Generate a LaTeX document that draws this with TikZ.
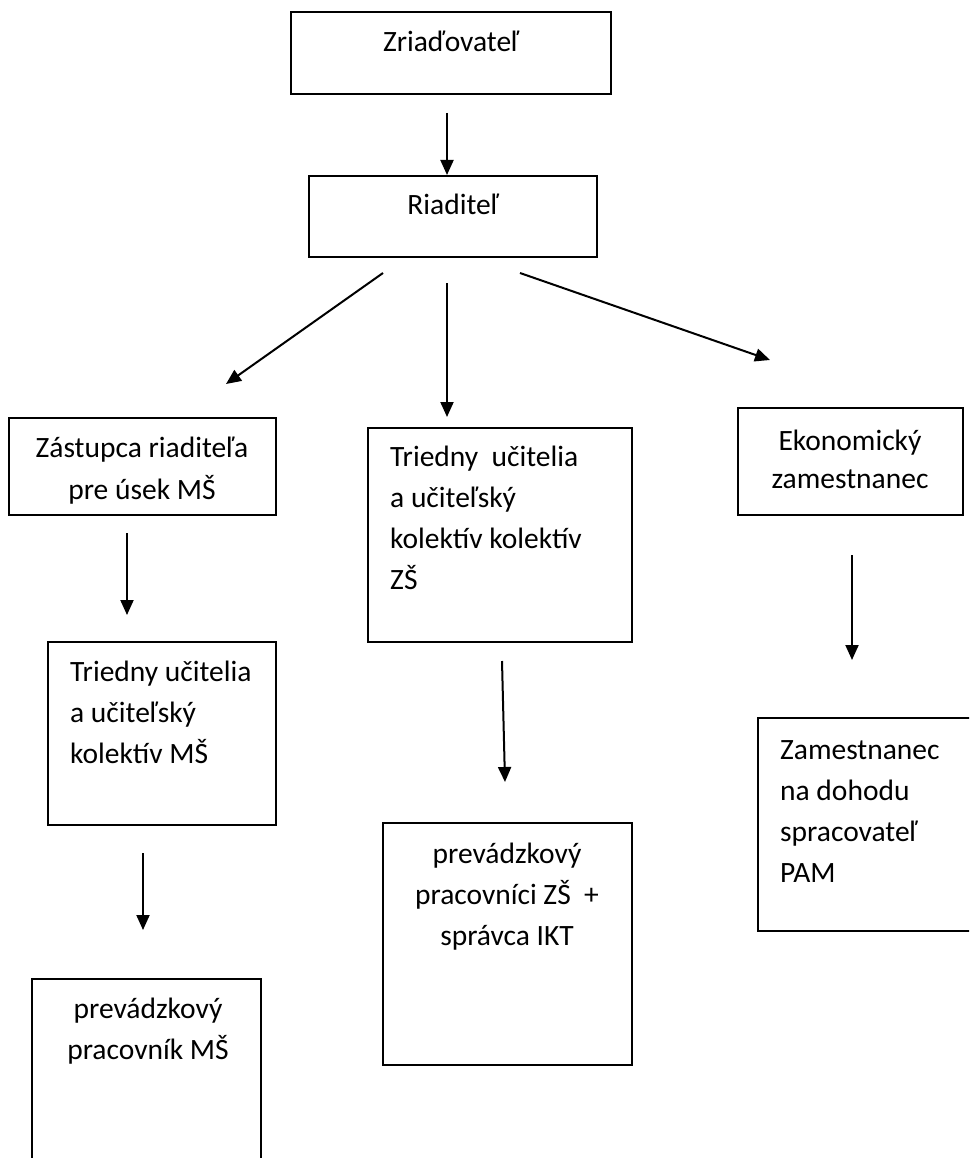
\documentclass[tikz,border=0pt]{standalone}
\usepackage{fontspec}
\setmainfont{Carlito}
\usetikzlibrary{arrows.meta}
\newcommand{\mylines}[2]{\begin{tabular}[t]{@{}#1@{}}#2\end{tabular}}
\begin{document}
\begin{tikzpicture}[x=1pt,y=-1pt,
  orgbox/.style={draw=black,line width=2pt,inner sep=0pt,fill=none},
  lbl/.style={inner sep=0pt,font=\fontsize{29.5}{41}\selectfont},
  conn/.style={line width=2pt,-{Triangle[length=15pt,width=13pt]}}]
\clip (0,0) rectangle (969,1158);
\fill[white] (0,0) rectangle (969,1158);
% boxes
\node[orgbox,minimum width=320pt,minimum height=82pt] (b1) at (451,53) {};
\node[orgbox,minimum width=288pt,minimum height=81pt] (b2) at (453,216.5) {};
\node[orgbox,minimum width=267pt,minimum height=97pt] (b3) at (142.5,466.5) {};
\node[orgbox,minimum width=264pt,minimum height=214pt] (b4) at (500,535) {};
\node[orgbox,minimum width=225pt,minimum height=107pt] (b5) at (850.5,461.5) {};
\node[orgbox,minimum width=228pt,minimum height=183pt] (b6) at (162,733.5) {};
\node[orgbox,minimum width=249pt,minimum height=242pt] (b7) at (507.5,944) {};
\node[orgbox,minimum width=232pt,minimum height=213pt] (b8) at (874,824.5) {};
\node[orgbox,minimum width=229pt,minimum height=201pt] (b9) at (146.5,1079.5) {};
% texts
\node[lbl,anchor=base] (t1) at (451,52) {Zriaďovateľ};
\node[lbl,anchor=base] (t2) at (453,215) {Riaditeľ};
\node[lbl,anchor=base,font=\fontsize{29.5}{42.7}\selectfont] (t3) at (142,457) {\mylines{c}{Zástupca riaditeľa\\pre úsek MŠ}};
\node[lbl,anchor=base west] (t4) at (390,466) {\mylines{l}{Triedny\ \ učitelia\\a učiteľský\\kolektív kolektív\\ZŠ}};
\node[lbl,anchor=base,font=\fontsize{29.5}{38.7}\selectfont] (t5) at (850,450) {\mylines{c}{Ekonomický\\zamestnanec}};
\node[lbl,anchor=base west] (t6) at (70,681) {\mylines{l}{Triedny učitelia\\a učiteľský\\kolektív MŠ}};
\node[lbl,anchor=base] (t7) at (507,863) {\mylines{c}{prevádzkový\\pracovníci ZŠ\ \ +\\správca IKT}};
\node[lbl,anchor=base west] (t8) at (780,759) {\mylines{l}{Zamestnanec\\na dohodu\\spracovateľ\\PAM}};
\node[lbl,anchor=base] (t9) at (148,1018) {\mylines{c}{prevádzkový\\pracovník MŠ}};
% arrow end points
\coordinate (a1s) at (447,113); \coordinate (a1e) at (447,175);
\coordinate (a2s) at (383,273); \coordinate (a2e) at (226,384);
\coordinate (a3s) at (447,283); \coordinate (a3e) at (447,417);
\coordinate (a4s) at (520,273); \coordinate (a4e) at (770,360);
\coordinate (a5s) at (127,533); \coordinate (a5e) at (127,615);
\coordinate (a6s) at (852,555); \coordinate (a6e) at (852,660);
\coordinate (a7s) at (502,661); \coordinate (a7e) at (505,782);
\coordinate (a8s) at (143,853); \coordinate (a8e) at (143,930);
% arrows
\draw[conn] (a1s) -- (a1e);
\draw[conn] (a2s) -- (a2e);
\draw[conn] (a3s) -- (a3e);
\draw[conn] (a4s) -- (a4e);
\draw[conn] (a5s) -- (a5e);
\draw[conn] (a6s) -- (a6e);
\draw[conn] (a7s) -- (a7e);
\draw[conn] (a8s) -- (a8e);
\end{tikzpicture}
\end{document}
